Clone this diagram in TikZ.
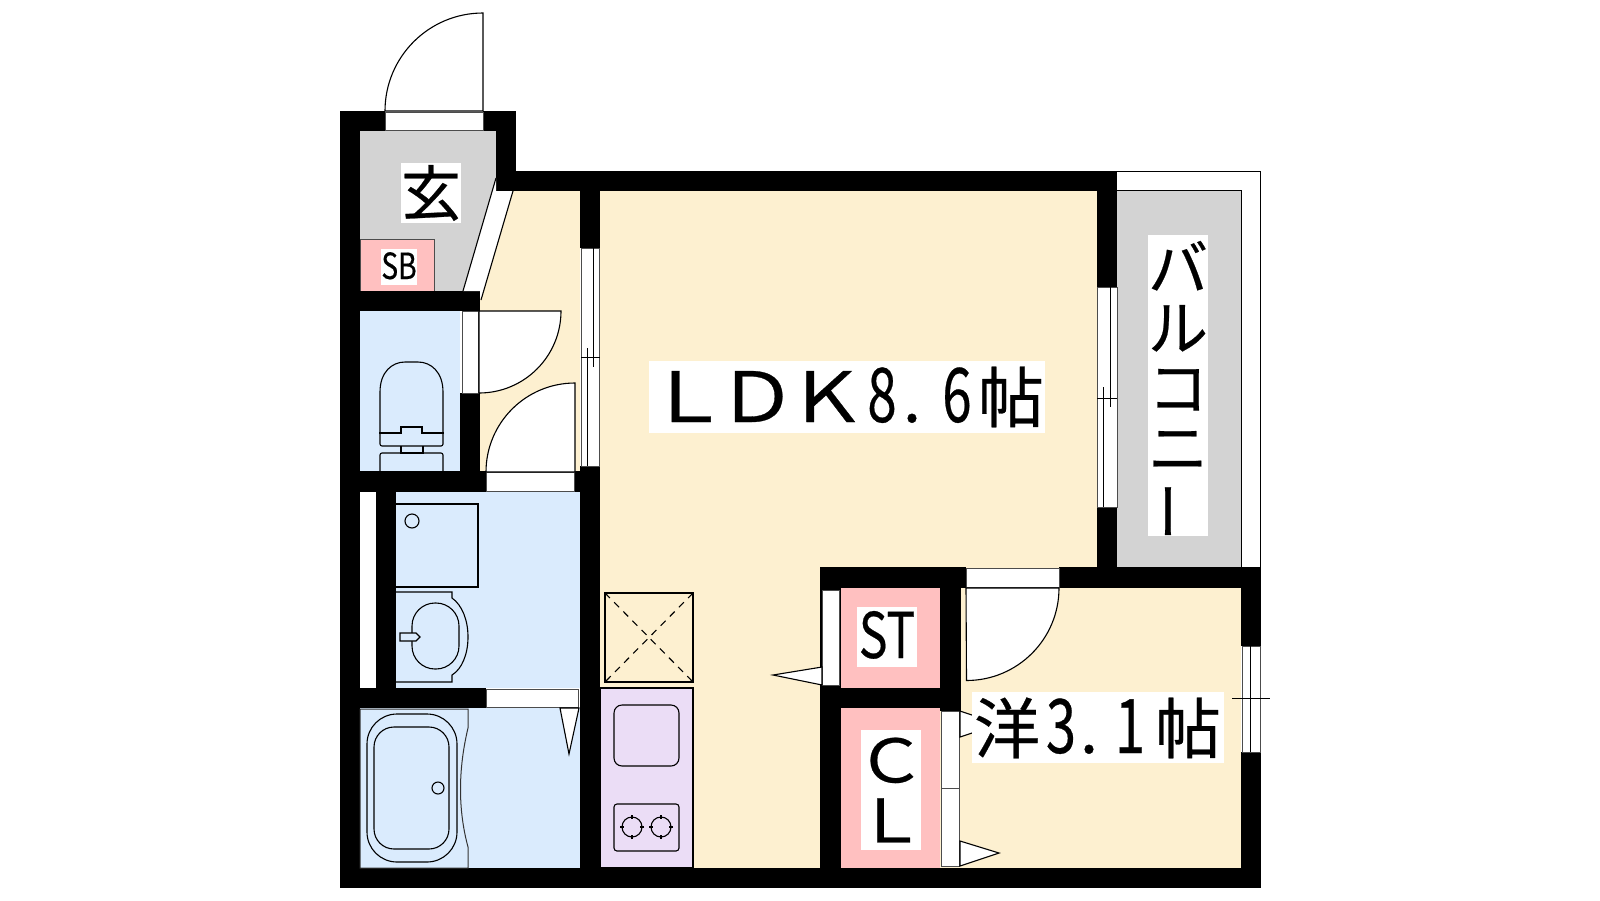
\documentclass[tikz,border=0pt]{standalone}
\usepackage{fontspec}
\usepackage{graphicx}
\newfontfamily\jpfont[FakeBold=0.4]{Noto Sans CJK JP}
\newcommand{\jpsize}[1]{\fontsize{#1}{#1}\selectfont\jpfont}
\newcommand{\glyphcell}[4]{\makebox[#1pt]{\scalebox{#2}[#3]{#4}}}
\definecolor{creamfloor}{HTML}{FDF0D0}
\definecolor{bluefloor}{HTML}{DAEBFD}
\definecolor{pinkfloor}{HTML}{FFC0C0}
\definecolor{grayfloor}{HTML}{D3D3D3}
\definecolor{purplefloor}{HTML}{EBDDF6}
\tikzset{
  wall/.style={fill=black, draw=none},
  fixture/.style={draw=black, line width=1.1pt},
  leaf/.style={draw=black, fill=white, line width=1.1pt},
  frameline/.style={draw=black!70, fill=white, line width=1pt},
  roomlabel/.style={fill=white, inner sep=0pt, align=center}
}
\begin{document}
\begin{tikzpicture}[x=1pt, y=-1pt]
\useasboundingbox (0, 0) rectangle (1600, 900);
\fill[creamfloor] (600, 191) rectangle (1097, 868);
\fill[creamfloor] (513, 191) -- (580, 191) -- (580, 472) -- (480, 472) -- (480, 300) -- cycle;
\fill[creamfloor] (961, 588) rectangle (1241, 868);
\fill[grayfloor] (360, 131) -- (496, 131) -- (496, 178) -- (463, 291) -- (360, 291) -- cycle;
\fill[bluefloor] (360, 311) rectangle (460, 471);
\fill[bluefloor] (396, 492) rectangle (580, 688);
\fill[bluefloor] (360, 708) rectangle (580, 868);
\draw[fill=purplefloor, fixture] (600, 688) rectangle (693, 868);
\draw[fill=pinkfloor, line width=1pt, draw=black!70] (360, 239) rectangle (434, 291);
\fill[pinkfloor] (841, 588) rectangle (940, 688);
\fill[pinkfloor] (841, 708) rectangle (940, 868);
\fill[grayfloor] (1117, 190) rectangle (1241, 567);
\draw[line width=1pt] (1117, 190) -- (1241, 190) -- (1241, 567);
\draw[line width=1pt] (1106, 171) -- (1260, 171) -- (1260, 567);
\fill[wall] (340, 111) rectangle (360, 888);
\fill[wall] (340, 111) rectangle (385, 131);
\fill[wall] (483, 111) rectangle (516, 131);
\fill[wall] (496, 111) rectangle (516, 191);
\fill[wall] (496, 171) rectangle (1117, 191);
\fill[wall] (580, 191) rectangle (600, 248);
\fill[wall] (580, 466) rectangle (600, 888);
\fill[wall] (340, 291) rectangle (480, 311);
\fill[wall] (460, 393) rectangle (480, 492);
\fill[wall] (340, 471) rectangle (486, 492);
\fill[wall] (574, 471) rectangle (580, 492);
\fill[wall] (376, 492) rectangle (396, 688);
\fill[wall] (340, 688) rectangle (486, 708);
\fill[wall] (340, 868) rectangle (1261, 888);
\fill[wall] (820, 567) rectangle (966, 588);
\fill[wall] (820, 567) rectangle (841, 888);
\fill[wall] (841, 688) rectangle (961, 708);
\fill[wall] (940, 567) rectangle (961, 711);
\fill[wall] (1059, 567) rectangle (1261, 588);
\fill[wall] (1097, 191) rectangle (1117, 287);
\fill[wall] (1097, 507) rectangle (1117, 588);
\fill[wall] (1241, 588) rectangle (1261, 646);
\fill[wall] (1241, 752) rectangle (1261, 868);
% door frames
\draw[frameline] (385, 112) rectangle (483, 130);
\draw[frameline] (462, 311) rectangle (478, 393);
\draw[frameline] (486, 472) rectangle (574, 491);
\draw[frameline] (486, 689) rectangle (578, 707);
\draw[frameline] (966, 568) rectangle (1059, 587);
\draw[frameline] (822, 590) rectangle (839, 685);
\draw[frameline] (941, 711) rectangle (959, 788);
\draw[frameline] (941, 788) rectangle (959, 866);
\fill[white] (496, 178) -- (496, 191) -- (513, 191) -- (481, 300) -- (480, 291) -- (463, 291) -- cycle;
\draw[line width=1.1pt] (496, 178) -- (463, 291);
\draw[line width=1.1pt] (513, 191) -- (481, 300);
% door leaves
\draw[leaf] (483, 111) -- (483, 13) arc[start angle=-90, end angle=-180, radius=98] -- cycle;
\draw[leaf] (479, 311) -- (561, 311) arc[start angle=0, end angle=90, radius=82] -- cycle;
\draw[leaf] (575, 472) -- (575, 383) arc[start angle=-90, end angle=-180, radius=89] -- cycle;
\draw[leaf] (966, 588) -- (1059, 588) arc[start angle=0, end angle=90, radius=92.5] -- cycle;
\draw[leaf] (560, 708) -- (569, 754) -- (579, 708) -- cycle;
\draw[leaf] (822, 667) -- (773, 675) -- (822, 685) -- cycle;
\draw[leaf] (960, 711) -- (999, 724) -- (960, 737) -- cycle;
\draw[leaf] (960, 841) -- (999, 853) -- (960, 866) -- cycle;
% sliding windows
\draw[frameline] (581, 248) rectangle (599, 466);
\draw[line width=1pt] (587, 348) -- (587, 466);
\draw[line width=1pt] (593, 248) -- (593, 367);
\draw[line width=1pt] (581, 357) -- (600, 357);
\draw[frameline] (1097, 287) rectangle (1117, 507);
\draw[line width=1pt] (1103, 387) -- (1103, 507);
\draw[line width=1pt] (1110, 287) -- (1110, 407);
\draw[line width=1pt] (1097, 398) -- (1117, 398);
\draw[frameline] (1242, 646) rectangle (1260, 752);
\draw[line width=1pt] (1250, 646) -- (1250, 752);
\draw[line width=1pt] (1232, 698) -- (1270, 698);
% toilet
\draw[fixture, rounded corners=2pt] (380, 433) -- (380, 446) -- (443, 446) -- (443, 433);
\draw[fixture] (380, 433) -- (380, 392) .. controls (380, 372) and (392, 362) .. (405, 362) -- (418, 362) .. controls (431, 362) and (443, 372) .. (443, 392) -- (443, 433);
\draw[fixture] (379, 433) -- (401, 433) -- (401, 427) -- (422, 427) -- (422, 433) -- (444, 433);
\draw[fixture] (401, 446) -- (401, 453) -- (423, 453) -- (423, 446);
\draw[fixture, rounded corners=2pt] (380, 471) -- (380, 453) -- (443, 453) -- (443, 471);
% washroom
\draw[fixture] (396, 504) -- (478, 504) -- (478, 587) -- (396, 587);
\draw[fixture] (412, 521) circle (7);
\draw[fixture] (396, 592) -- (452, 592) -- (452, 598) .. controls (462, 605) and (468, 620) .. (468, 637) .. controls (468, 654) and (462, 669) .. (452, 675) -- (452, 682) -- (396, 682);
\draw[fixture, rounded corners=23pt] (412, 603) rectangle (459, 669);
\draw[fixture, fill=bluefloor] (400, 633) -- (416, 633) -- (420, 637) -- (416, 641) -- (400, 641) -- cycle;
% bath
\draw[line width=1pt, black!80] (360, 868) -- (360, 709) -- (468, 709) -- (468, 728) .. controls (458, 770) and (458, 810) .. (468, 847) -- (468, 868) -- cycle;
\draw[fixture, rounded corners=30pt] (367, 714) rectangle (457, 862);
\draw[fixture, rounded corners=20pt] (374, 727) rectangle (449, 849);
\draw[fixture] (438, 788) circle (6);
% kitchen
\draw[fixture] (605, 593) rectangle (693, 682);
\draw[fixture, dashed, dash pattern=on 7pt off 6pt] (605, 593) -- (693, 682);
\draw[fixture, dashed, dash pattern=on 7pt off 6pt] (693, 593) -- (605, 682);
\draw[fixture, rounded corners=8pt] (614, 705) rectangle (679, 766);
\draw[fixture, rounded corners=3pt] (614, 804) rectangle (679, 851);
\foreach \cx in {632, 661} {
  \draw[fixture] (\cx, 827) circle (10);
  \draw[fixture] (\cx - 12, 827) -- (\cx - 8, 827);
  \draw[fixture] (\cx + 12, 827) -- (\cx + 8, 827);
  \draw[fixture] (\cx, 815) -- (\cx, 819);
  \draw[fixture] (\cx, 839) -- (\cx, 835);
}
% labels
\node[roomlabel, minimum width=60, minimum height=60, font=\jpsize{60}] (genkan) at (431, 193) {玄};
\node[roomlabel, minimum width=36, text height=30, text depth=6, font=\jpsize{36}] (sb) at (399, 267) {\scalebox{0.78}[1]{SB}};
\node[roomlabel, minimum width=396, text height=61, text depth=11, font=\jpsize{66}] (ldk) at (847, 397) {\glyphcell{78}{1.25}{1.05}{Ｌ}\glyphcell{60}{1.2}{1.05}{Ｄ}\glyphcell{80}{1.2}{1.05}{Ｋ}\glyphcell{30}{0.8}{1.14}{8}\glyphcell{30}{1}{1}{.}\glyphcell{60}{0.8}{1.14}{6}\glyphcell{48}{1}{1}{帖}\kern10pt};
\node[roomlabel, minimum width=60, minimum height=301, font=\jpsize{60}] (balcony) at (1178, 385.5) {\rule{0pt}{48pt}バ\\ル\\コ\\ニ\\\smash{\raisebox{6pt}{\rotatebox[origin=c]{90}{ー}}}};
\node[roomlabel, minimum width=60, text height=51, text depth=9, font=\jpsize{60}] (st) at (887, 637) {\scalebox{0.8}[1.05]{ST}};
\node[roomlabel, minimum width=60, minimum height=120, font=\jpsize{60}] (cl) at (891, 790) {\glyphcell{60}{1.15}{1}{Ｃ}\\\glyphcell{60}{1.15}{1}{Ｌ}};
\node[roomlabel, minimum width=252, text height=61, text depth=10, font=\jpsize{66}] (yoshitsu) at (1098, 727.5) {\glyphcell{70}{1}{1}{洋}\glyphcell{38}{0.82}{1.14}{3}\glyphcell{18}{1}{1}{.}\glyphcell{64}{0.82}{1.14}{1}\glyphcell{52}{1}{1}{帖}\kern10pt};
\end{tikzpicture}
\end{document}
